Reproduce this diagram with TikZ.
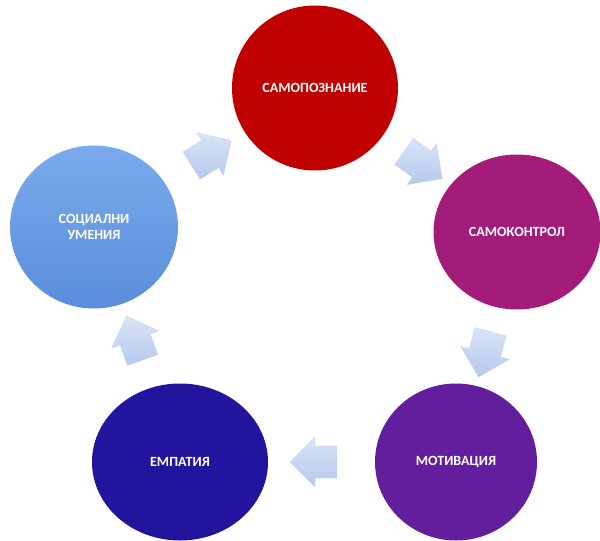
\documentclass[tikz,border=0pt]{standalone}
\usepackage{fontspec}
\setmainfont{Carlito}
\usetikzlibrary{shapes.geometric,shapes.arrows}

\definecolor{cRed}{RGB}{192,0,0}
\definecolor{cMagenta}{RGB}{163,28,122}
\definecolor{cPurple}{RGB}{98,30,156}
\definecolor{cNavy}{RGB}{34,20,156}
\definecolor{cSkyTop}{RGB}{122,170,236}
\definecolor{cSkyBot}{RGB}{90,142,218}
\definecolor{cArrowTop}{RGB}{216,228,247}
\definecolor{cArrowBot}{RGB}{182,201,237}
\definecolor{cArrowEdge}{RGB}{190,206,238}

\begin{document}
\begin{tikzpicture}[x=0.5mm,y=0.5mm,
  stage/.style={ellipse, inner sep=0pt, text=white, align=center,
    font=\fontsize{20}{23}\selectfont\bfseries},
  flow/.style={single arrow, inner xsep=0pt, inner ysep=8mm,
    single arrow head extend=4.5mm, minimum height=23.5mm,
    sloped, allow upside down,
    top color=cArrowTop, bottom color=cArrowBot, draw=cArrowEdge, line width=0.3pt}]
  \useasboundingbox (0,0) rectangle (600,540);

  % five stages of the cycle (y measured upward from the bottom edge)
  \node[stage, fill=cRed, minimum width=83mm, minimum height=82.5mm]
    (self) at (315,452) {САМОПОЗНАНИЕ};
  \node[stage, fill=cMagenta, minimum width=83.5mm, minimum height=77.5mm]
    (control) at (517,308) {САМОКОНТРОЛ};
  \node[stage, fill=cPurple, minimum width=81mm, minimum height=78.5mm]
    (motiv) at (456,78) {МОТИВАЦИЯ};
  \node[stage, fill=cNavy, minimum width=88mm, minimum height=78.5mm]
    (empathy) at (180,78) {ЕМПАТИЯ};
  \node[stage, top color=cSkyTop, bottom color=cSkyBot,
    minimum width=84mm, minimum height=81.5mm]
    (social) at (94,313) {СОЦИАЛНИ\\УМЕНИЯ};

  % block arrows between consecutive stages
  \path (social)  -- node[flow] (a1) {} (self);
  \path (self)    -- node[flow] (a2) {} (control);
  \path (control) -- node[flow] (a3) {} (motiv);
  \path (motiv)   -- node[flow] (a4) {} (empathy);
  \path (empathy) -- node[flow] (a5) {} (social);
\end{tikzpicture}
\end{document}
